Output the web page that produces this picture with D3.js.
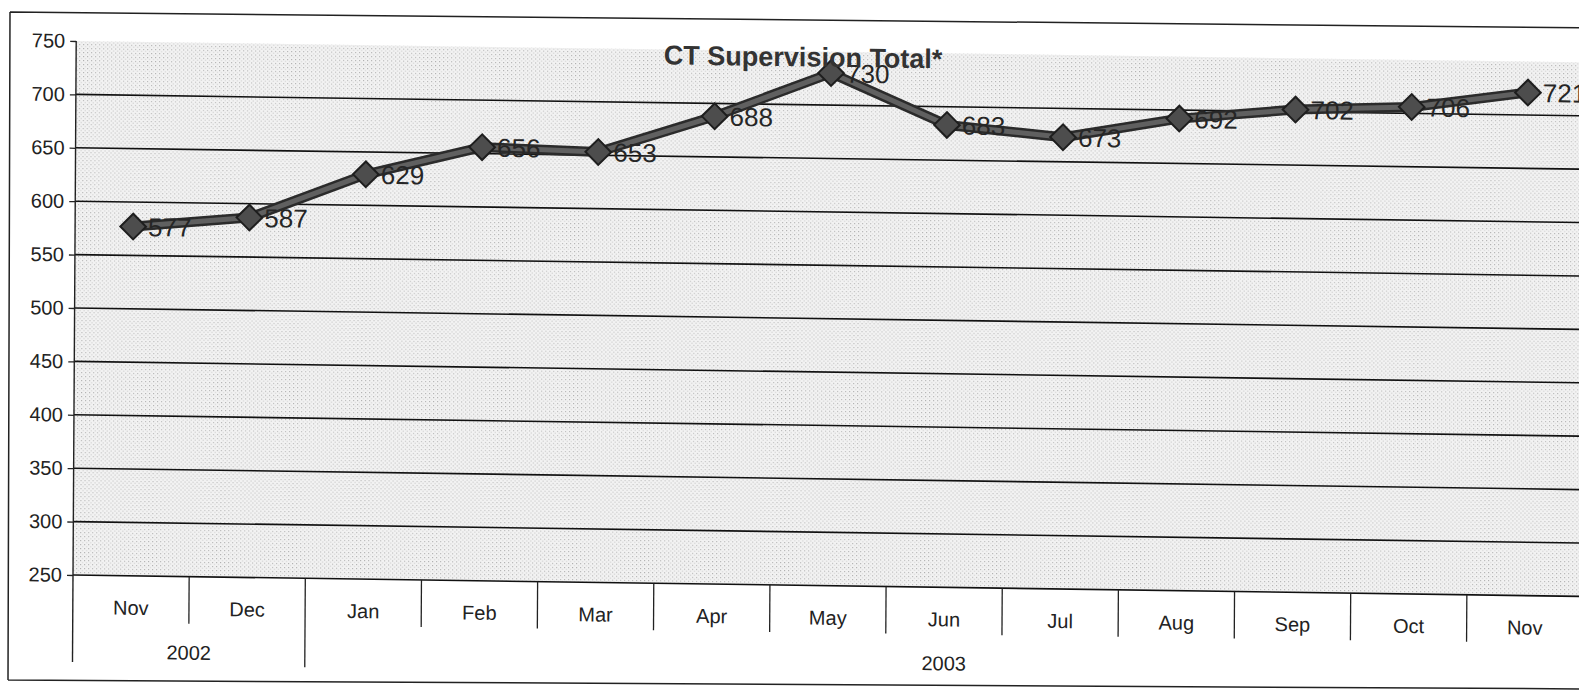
<!DOCTYPE html>
<html>
<head>
<meta charset="utf-8">
<script src="https://cdn.jsdelivr.net/npm/d3@7/dist/d3.min.js"></script>
<style>
  html, body { margin: 0; padding: 0; background: #fff; }
  svg { display: block; font-family: Arial, "Liberation Sans", sans-serif; }
</style>
</head>
<body>
<svg id="chart" width="1579" height="693"></svg>
<script>
// ---- data ----
const months = ["Nov","Dec","Jan","Feb","Mar","Apr","May","Jun","Jul","Aug","Sep","Oct","Nov"];
const years = ["2002","2003"];
const yearSpans = [2, 11];
const values = [577, 587, 629, 656, 653, 688, 730, 683, 673, 692, 702, 706, 721];
const yTicks = [250, 300, 350, 400, 450, 500, 550, 600, 650, 700, 750];
const title = "CT Supervision Total*";

// ---- layout ----
const svg = d3.select("#chart");
const pLeft = 73, pRight = 1583, pTop = 41, pBottom = 575;
const keys = months.map((m, i) => i);
const x = d3.scaleBand().domain(keys).range([pLeft, pRight]).padding(0);
const y = d3.scaleLinear().domain([250, 750]).range([pBottom, pTop]);

// outer frame (scanned page, slightly skewed)
svg.append("path")
  .attr("d", "M10,12 L1600,28 M10,12 L8,680 M8,680 L1600,689")
  .attr("fill", "none").attr("stroke", "#222").attr("stroke-width", 1.5);

// slight scan skew: horizontal lines slope down, verticals lean slightly
const sb = 0.0142, sc = -0.006;
const g = svg.append("g")
  .attr("transform", `matrix(1,${sb},${sc},1,${-sc*pBottom},${-sb*pLeft})`);

// plot background (halftone grey)
const defs = svg.append("defs");
const pat = defs.append("pattern").attr("id", "stip").attr("patternUnits", "userSpaceOnUse")
  .attr("width", 4).attr("height", 4);
pat.append("rect").attr("width", 4).attr("height", 4).attr("fill", "#f2f2f2");
pat.append("rect").attr("x", 0).attr("y", 0).attr("width", 1).attr("height", 1).attr("fill", "#b0b0b0");
pat.append("rect").attr("x", 2).attr("y", 2).attr("width", 1).attr("height", 1).attr("fill", "#c4c4c4");
g.append("rect").attr("x", pLeft).attr("y", pTop).attr("width", pRight - pLeft).attr("height", pBottom - pTop)
  .attr("fill", "url(#stip)");

// gridlines
g.append("g").selectAll("line").data(yTicks.filter(t => t < 750)).join("line")
  .attr("x1", pLeft).attr("x2", pRight).attr("y1", d => y(d)).attr("y2", d => y(d))
  .attr("stroke", "#111").attr("stroke-width", 1.6);

// y axis
const yAxis = d3.axisLeft(y).tickValues(yTicks).tickSize(6).tickPadding(8);
const ya = g.append("g").attr("transform", `translate(${pLeft},0)`).call(yAxis);
ya.select(".domain").remove();
ya.selectAll(".tick line").attr("stroke", "#222").attr("stroke-width", 1.3);
ya.selectAll(".tick text").attr("font-size", 20).attr("fill", "#222")
  .attr("font-family", "Arial, 'Liberation Sans', sans-serif").attr("x", -11);
g.append("line").attr("x1", pLeft).attr("x2", pLeft).attr("y1", pTop).attr("y2", 662)
  .attr("stroke", "#222").attr("stroke-width", 1.4);

// x axis: month separators + labels
const yearBounds = [];
let acc = 0;
yearSpans.forEach(s => { acc += s; yearBounds.push(acc); });
g.append("g").selectAll("line").data(keys.slice(1)).join("line")
  .attr("x1", k => x(k)).attr("x2", k => x(k))
  .attr("y1", pBottom).attr("y2", k => yearBounds.includes(k) ? 664 : 622)
  .attr("stroke", "#222").attr("stroke-width", 1.3);
g.append("g").selectAll("text").data(keys).join("text")
  .attr("x", k => x(k) + x.bandwidth() / 2).attr("y", 614)
  .attr("text-anchor", "middle").attr("font-size", 20).attr("fill", "#222")
  .text(k => months[k]);
// year labels
let start = 0;
years.forEach((yr, i) => {
  const s0 = x(start), s1 = start + yearSpans[i] < keys.length ? x(start + yearSpans[i]) : pRight;
  g.append("text").attr("x", (s0 + s1) / 2).attr("y", 658)
    .attr("text-anchor", "middle").attr("font-size", 20).attr("fill", "#222").text(yr);
  start += yearSpans[i];
});

// line
const cx = k => x(k) + x.bandwidth() / 2;
const lineGen = d3.line().x((d, i) => cx(i)).y(d => y(d));
g.append("path").datum(values).attr("d", lineGen).attr("fill", "none")
  .attr("stroke", "#2b2b2b").attr("stroke-width", 10).attr("stroke-linejoin", "round");
g.append("path").datum(values).attr("d", lineGen).attr("fill", "none")
  .attr("stroke", "#606060").attr("stroke-width", 5).attr("stroke-linejoin", "round");

// markers (square diamonds)
const sym = d3.symbol().type(d3.symbolSquare).size(330);
g.append("g").selectAll("path").data(values).join("path")
  .attr("d", sym)
  .attr("transform", (d, i) => `translate(${cx(i)},${y(d)}) rotate(45)`)
  .attr("fill", "#4d4d4d").attr("stroke", "#1e1e1e").attr("stroke-width", 2);

// data labels
g.append("g").selectAll("text").data(values).join("text")
  .attr("x", (d, i) => cx(i) + 15).attr("y", d => y(d)).attr("dy", "0.36em")
  .attr("font-size", 26).attr("fill", "#262626").text(d => d);

// title
g.append("text").attr("x", 800).attr("y", 56)
  .attr("text-anchor", "middle").attr("font-size", 27).attr("font-weight", "bold")
  .attr("fill", "#333").text(title);
</script>
</body>
</html>
